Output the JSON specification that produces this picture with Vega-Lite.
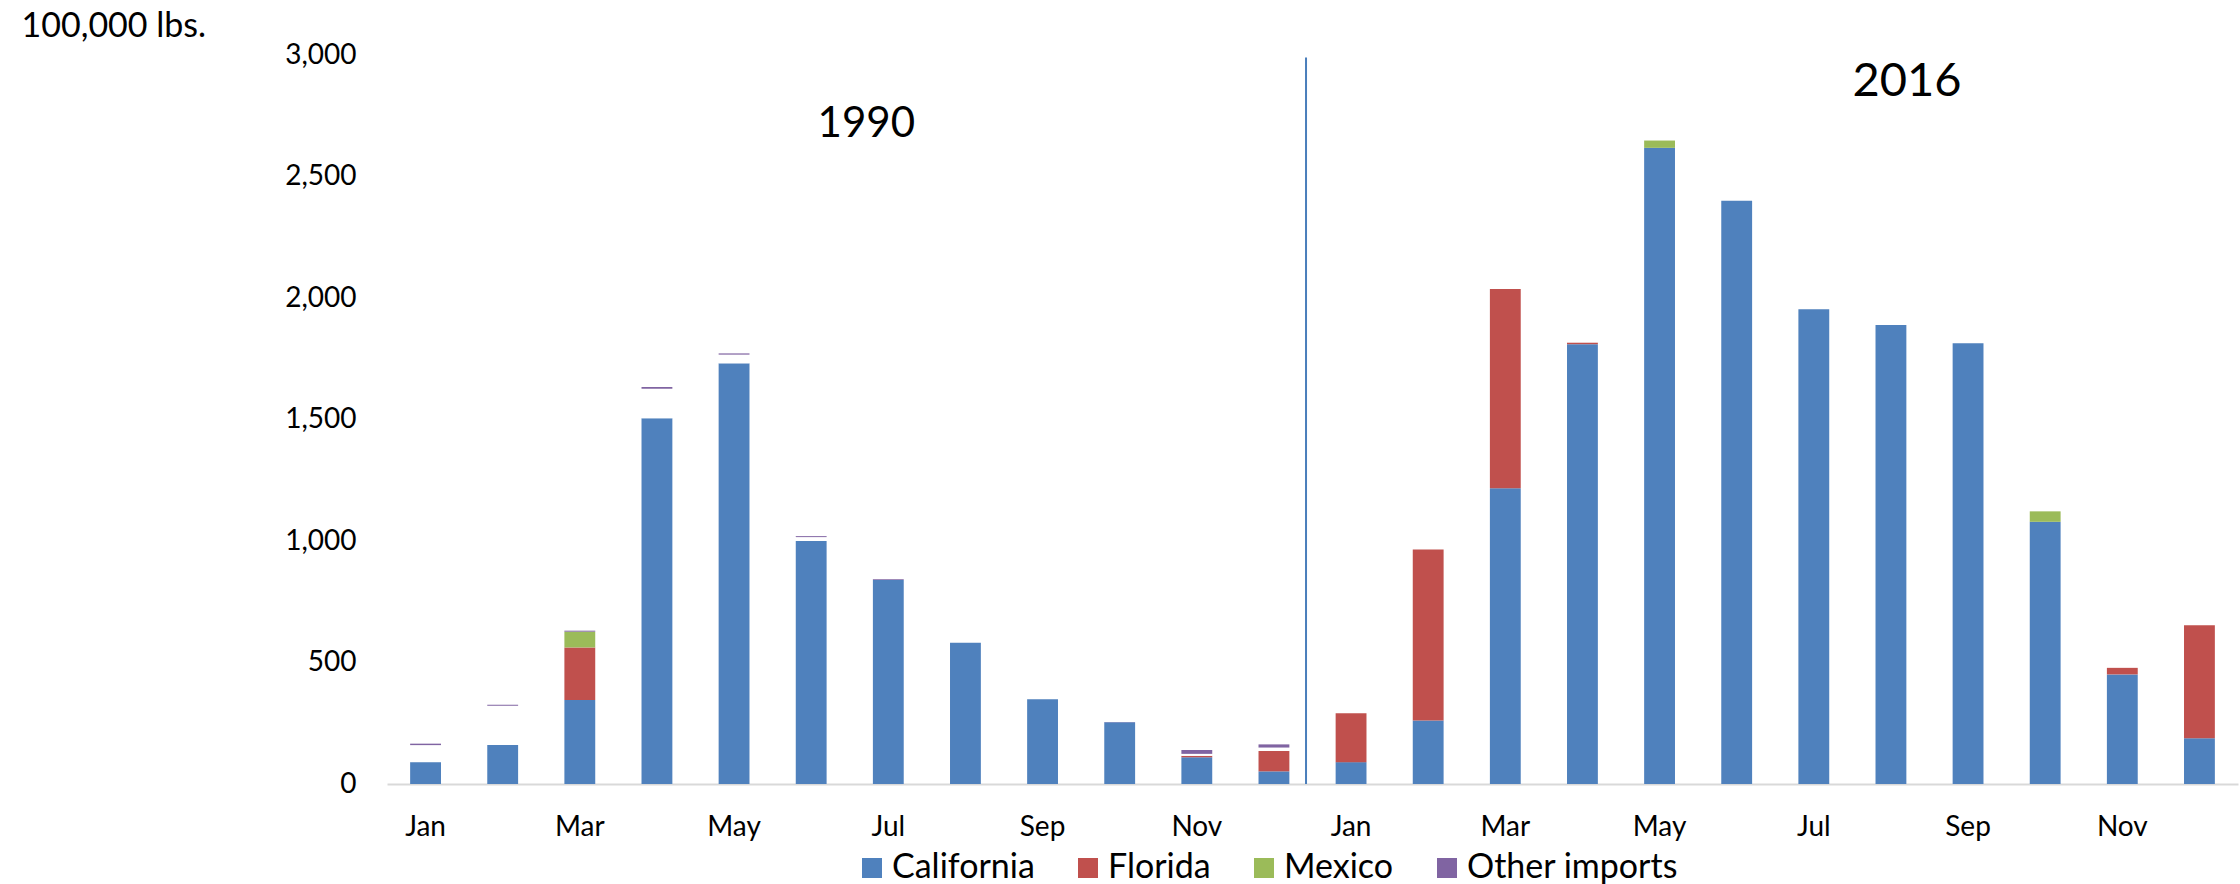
{
  "$schema": "https://vega.github.io/schema/vega-lite/v6.json",
  "width": 1851,
  "height": 729,
  "autosize": "none",
  "padding": {"left": 387, "top": 55, "right": 2, "bottom": 100},
  "background": "white",
  "config": {"view": {"stroke": null}, "font": "Lato", "text": {"font": "Lato"}},
  "layer": [
    {
      "data": {"values": [
        {"period": "1990 Jan", "source": "California", "value": 90},
        {"period": "1990 Jan", "source": "Not shown", "value": 70},
        {"period": "1990 Jan", "source": "Other imports", "value": 6},
        {"period": "1990 Feb", "source": "California", "value": 160},
        {"period": "1990 Feb", "source": "Not shown", "value": 162},
        {"period": "1990 Feb", "source": "Other imports", "value": 4},
        {"period": "1990 Mar", "source": "California", "value": 346},
        {"period": "1990 Mar", "source": "Florida", "value": 216},
        {"period": "1990 Mar", "source": "Mexico", "value": 65},
        {"period": "1990 Mar", "source": "Other imports", "value": 4},
        {"period": "1990 Apr", "source": "California", "value": 1505},
        {"period": "1990 Apr", "source": "Not shown", "value": 122},
        {"period": "1990 Apr", "source": "Other imports", "value": 7},
        {"period": "1990 May", "source": "California", "value": 1731},
        {"period": "1990 May", "source": "Not shown", "value": 36},
        {"period": "1990 May", "source": "Other imports", "value": 5},
        {"period": "1990 Jun", "source": "California", "value": 1000},
        {"period": "1990 Jun", "source": "Not shown", "value": 16},
        {"period": "1990 Jun", "source": "Other imports", "value": 4},
        {"period": "1990 Jul", "source": "California", "value": 840},
        {"period": "1990 Jul", "source": "Other imports", "value": 3},
        {"period": "1990 Aug", "source": "California", "value": 581},
        {"period": "1990 Sep", "source": "California", "value": 349},
        {"period": "1990 Oct", "source": "California", "value": 254},
        {"period": "1990 Oct", "source": "Other imports", "value": 1},
        {"period": "1990 Nov", "source": "California", "value": 110},
        {"period": "1990 Nov", "source": "Florida", "value": 6},
        {"period": "1990 Nov", "source": "Not shown", "value": 8},
        {"period": "1990 Nov", "source": "Other imports", "value": 16},
        {"period": "1990 Dec", "source": "California", "value": 52},
        {"period": "1990 Dec", "source": "Florida", "value": 84},
        {"period": "1990 Dec", "source": "Not shown", "value": 14},
        {"period": "1990 Dec", "source": "Other imports", "value": 13},
        {"period": "2016 Jan", "source": "California", "value": 90},
        {"period": "2016 Jan", "source": "Florida", "value": 201},
        {"period": "2016 Feb", "source": "California", "value": 261},
        {"period": "2016 Feb", "source": "Florida", "value": 704},
        {"period": "2016 Mar", "source": "California", "value": 1217},
        {"period": "2016 Mar", "source": "Florida", "value": 820},
        {"period": "2016 Apr", "source": "California", "value": 1810},
        {"period": "2016 Apr", "source": "Florida", "value": 6},
        {"period": "2016 May", "source": "California", "value": 2618},
        {"period": "2016 May", "source": "Mexico", "value": 30},
        {"period": "2016 Jun", "source": "California", "value": 2400},
        {"period": "2016 Jul", "source": "California", "value": 1954},
        {"period": "2016 Aug", "source": "California", "value": 1889},
        {"period": "2016 Sep", "source": "California", "value": 1814},
        {"period": "2016 Oct", "source": "California", "value": 1079},
        {"period": "2016 Oct", "source": "Mexico", "value": 43},
        {"period": "2016 Nov", "source": "California", "value": 451},
        {"period": "2016 Nov", "source": "Florida", "value": 27},
        {"period": "2016 Dec", "source": "California", "value": 188},
        {"period": "2016 Dec", "source": "Florida", "value": 465}
      ]},
      "mark": {"type": "bar"},
      "encoding": {
        "x": {
          "field": "period", "type": "nominal",
          "scale": {
            "domain": ["1990 Jan", "1990 Feb", "1990 Mar", "1990 Apr", "1990 May", "1990 Jun", "1990 Jul", "1990 Aug", "1990 Sep", "1990 Oct", "1990 Nov", "1990 Dec", "2016 Jan", "2016 Feb", "2016 Mar", "2016 Apr", "2016 May", "2016 Jun", "2016 Jul", "2016 Aug", "2016 Sep", "2016 Oct", "2016 Nov", "2016 Dec"],
            "paddingInner": 0.6, "paddingOuter": 0.3
          },
          "axis": {
            "title": null, "labelAngle": 0, "ticks": false, "labelOverlap": false,
            "domainColor": "#D9D9D9", "domainWidth": 2,
            "labelFontSize": 28, "labelPadding": 29, "labelColor": "#000000",
            "labelExpr": "indexof(['Jan','Mar','May','Jul','Sep','Nov'], substring(datum.value, 5)) >= 0 ? substring(datum.value, 5) : ''"
          }
        },
        "y": {
          "field": "value", "type": "quantitative", "stack": "zero",
          "scale": {"domain": [0, 3000], "nice": false},
          "axis": {
            "values": [0, 500, 1000, 1500, 2000, 2500, 3000], "format": ",.0f",
            "domain": false, "ticks": false, "grid": false,
            "labelFontSize": 28, "labelPadding": 31, "labelColor": "#000000",
            "title": "100,000 lbs.", "titleAngle": 0, "titleAlign": "left", "titleBaseline": "middle",
            "titleX": -366, "titleY": -29, "titleFontSize": 34, "titleFontWeight": "normal", "titleColor": "#000000"
          }
        },
        "order": {"field": "source", "type": "nominal", "sort": "ascending"},
        "color": {
          "field": "source", "type": "nominal",
          "scale": {
            "domain": ["California", "Florida", "Mexico", "Not shown", "Other imports"],
            "range": ["#4F81BD", "#C0504D", "#9BBB59", "#FFFFFF", "#8064A2"]
          },
          "legend": {
            "orient": "none", "legendX": 468, "legendY": 796, "direction": "horizontal",
            "values": ["California", "Florida", "Mexico", "Other imports"],
            "title": null, "symbolType": "square", "symbolSize": 400, "symbolStrokeWidth": 0,
            "symbolOpacity": 1, "labelFontSize": 34, "labelOffset": 3, "columnPadding": 36,
            "labelLimit": 400, "labelColor": "#000000"
          }
        }
      }
    },
    {
      "data": {"values": [{"period": "1990 Dec"}]},
      "mark": {"type": "rule", "color": "#4A7EBB", "strokeWidth": 2},
      "encoding": {
        "x": {"field": "period", "type": "nominal", "bandPosition": 1.54},
        "y": {"datum": 0},
        "y2": {"datum": 2990}
      }
    },
    {
      "data": {"values": [
        {"period": "1990 Jul", "label": "1990", "value": 2714}
      ]},
      "mark": {"type": "text", "fontSize": 42, "dx": -22, "baseline": "middle", "align": "center", "color": "#000000"},
      "encoding": {
        "x": {"field": "period", "type": "nominal"},
        "y": {"field": "value", "type": "quantitative"},
        "text": {"field": "label"}
      }
    },
    {
      "data": {"values": [
        {"period": "2016 Aug", "label": "2016", "value": 2887}
      ]},
      "mark": {"type": "text", "fontSize": 47, "dx": 16, "baseline": "middle", "align": "center", "color": "#000000"},
      "encoding": {
        "x": {"field": "period", "type": "nominal"},
        "y": {"field": "value", "type": "quantitative"},
        "text": {"field": "label"}
      }
    }
  ]
}
